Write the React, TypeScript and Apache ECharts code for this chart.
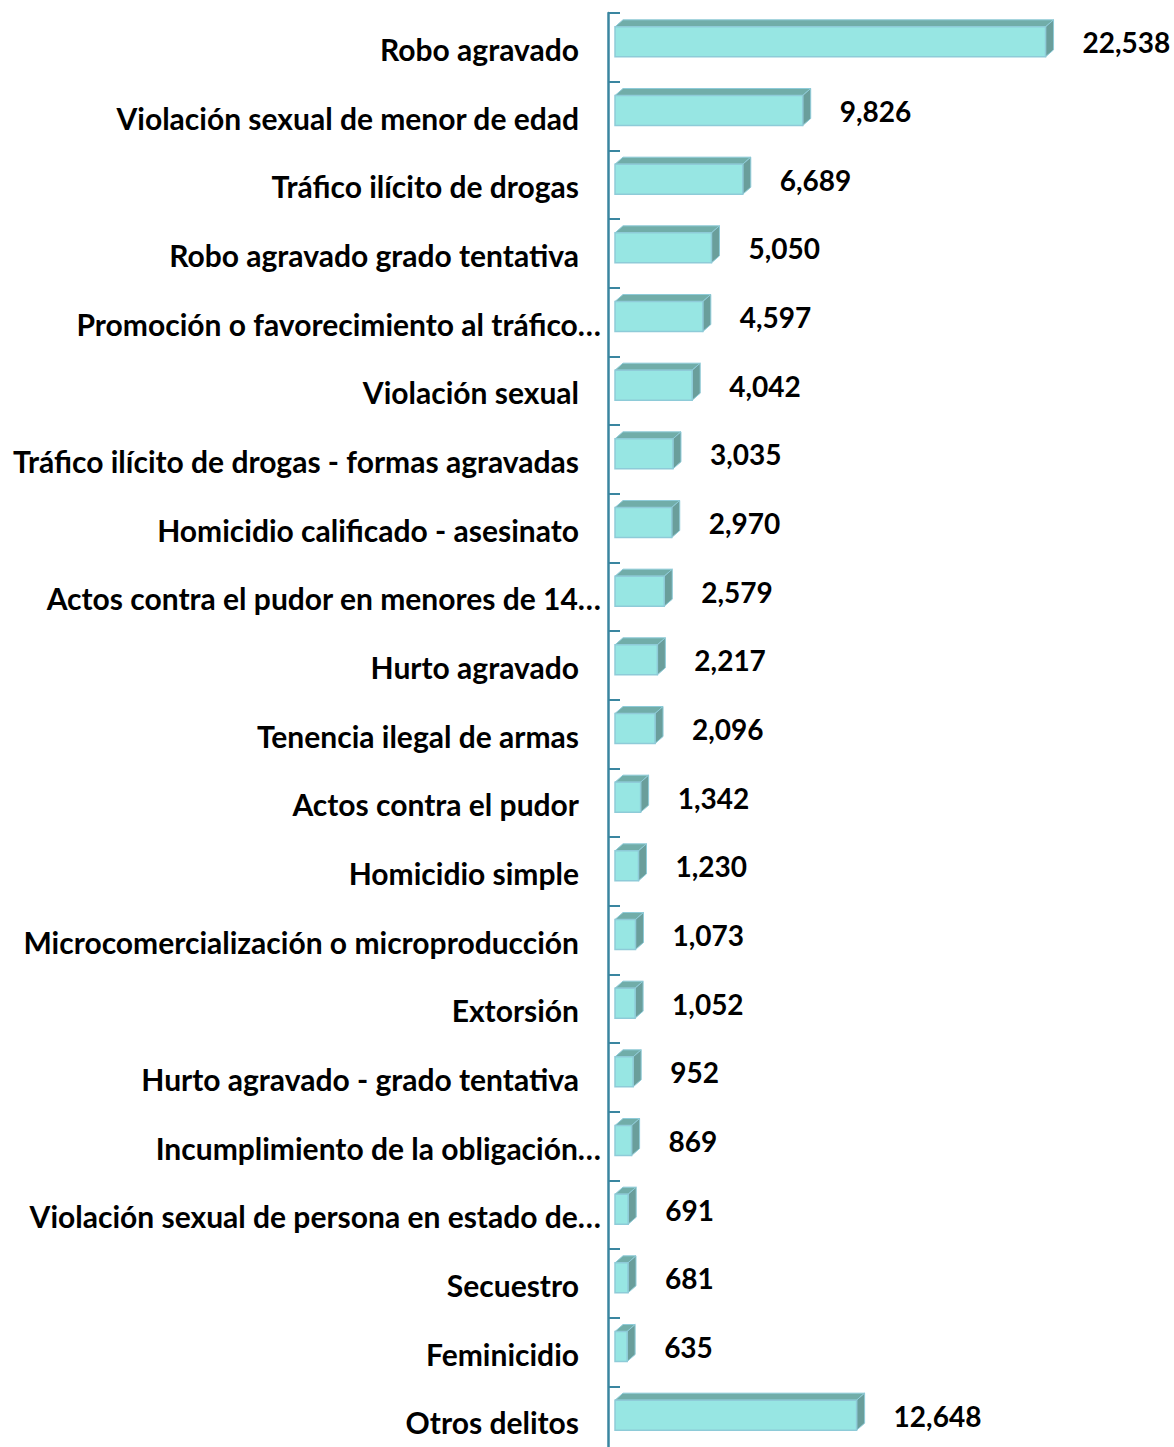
import React, { useEffect, useRef } from "react";
import * as echarts from "echarts";

const categories = [
  "Robo agravado",
  "Violación sexual de menor de edad",
  "Tráfico ilícito de drogas",
  "Robo agravado grado tentativa",
  "Promoción o favorecimiento al tráfico…",
  "Violación sexual",
  "Tráfico ilícito de drogas - formas agravadas",
  "Homicidio calificado - asesinato",
  "Actos contra el pudor en menores de 14…",
  "Hurto agravado",
  "Tenencia ilegal de armas",
  "Actos contra el pudor",
  "Homicidio simple",
  "Microcomercialización o microproducción",
  "Extorsión",
  "Hurto agravado - grado tentativa",
  "Incumplimiento de la obligación…",
  "Violación sexual de persona en estado de…",
  "Secuestro",
  "Feminicidio",
  "Otros delitos",
];

const values = [
  22538, 9826, 6689, 5050, 4597, 4042, 3035, 2970, 2579, 2217, 2096, 1342,
  1230, 1073, 1052, 952, 869, 691, 681, 635, 12648,
];

const FONT = "Lato, 'Noto Sans', sans-serif";

export default function App() {
  const ref = useRef<HTMLDivElement>(null);
  useEffect(() => {
    if (!ref.current) return;
    const chart = echarts.init(ref.current, null, { renderer: "svg" });
    const axisColor = "#3A86A0";
    chart.setOption({
      animation: false,
      backgroundColor: "#ffffff",
      grid: { left: 615, right: 5, top: 13, bottom: 0, containLabel: false },
      xAxis: {
        type: "value",
        min: 0,
        max: 29000,
        show: false,
      },
      yAxis: {
        type: "category",
        inverse: true,
        data: categories,
        offset: 7,
        axisLine: { show: true, onZero: false, lineStyle: { color: axisColor, width: 2.5 } },
        axisTick: {
          show: true,
          inside: true,
          length: 12,
          lineStyle: { color: axisColor, width: 2 },
        },
        axisLabel: {
          margin: 7,
          formatter: (v: string) =>
            v.endsWith("…") ? `{t|${v}}` : `{n|${v}}`,
          rich: {
            n: {
              fontFamily: FONT,
              fontWeight: "bold",
              fontSize: 30,
              color: "#000",
              padding: [3, 22, 0, 0],
            },
            t: {
              fontFamily: FONT,
              fontWeight: "bold",
              fontSize: 30,
              color: "#000",
              padding: [3, 0, 0, 0],
            },
          },
        },
        splitLine: { show: false },
      },
      series: [
        {
          type: "custom",
          encode: { x: 0, y: 1 },
          data: values.map((v, i) => [v, i]),
          renderItem: (params: any, api: any) => {
            const v = api.value(0);
            const i = api.value(1);
            const s = api.coord([0, i]);
            const e = api.coord([v, i]);
            const x0 = s[0];
            const x1 = e[0];
            const cy = s[1];
            const top = cy - 20.5;
            const bot = cy + 9.5;
            const dx = 8;
            const dy = 7;
            return {
              type: "group",
              children: [
                {
                  type: "polygon",
                  shape: {
                    points: [
                      [x0, top],
                      [x0 + dx, top - dy],
                      [x1 + dx, top - dy],
                      [x1, top],
                    ],
                  },
                  style: { fill: "#71ADA9", stroke: "#8ECBD8", lineWidth: 1 },
                },
                {
                  type: "polygon",
                  shape: {
                    points: [
                      [x1, top],
                      [x1 + dx, top - dy],
                      [x1 + dx, bot - dy],
                      [x1, bot],
                    ],
                  },
                  style: { fill: "#6A9E9B", stroke: "#8ECBD8", lineWidth: 1 },
                },
                {
                  type: "rect",
                  shape: { x: x0, y: top, width: x1 - x0, height: bot - top },
                  style: { fill: "#97E6E3", stroke: "#8ECBD8", lineWidth: 1.5 },
                },
                {
                  type: "text",
                  x: x1 + 37,
                  y: cy - 5,
                  style: {
                    text: v.toLocaleString("en-US"),
                    fontFamily: FONT,
                    fontWeight: "bold",
                    fontSize: 28,
                    fill: "#000",
                    verticalAlign: "middle",
                    align: "left",
                  },
                },
              ],
            };
          },
        },
      ],
    });
    return () => chart.dispose();
  }, []);
  return (
    <div
      style={{
        position: "absolute",
        left: 0,
        top: 0,
        width: 1174,
        height: 1447,
        overflow: "hidden",
        background: "#fff",
      }}
    >
      <div
        ref={ref}
        style={{ position: "absolute", left: 0, top: 0, width: 1174, height: 1455 }}
      />
    </div>
  );
}
